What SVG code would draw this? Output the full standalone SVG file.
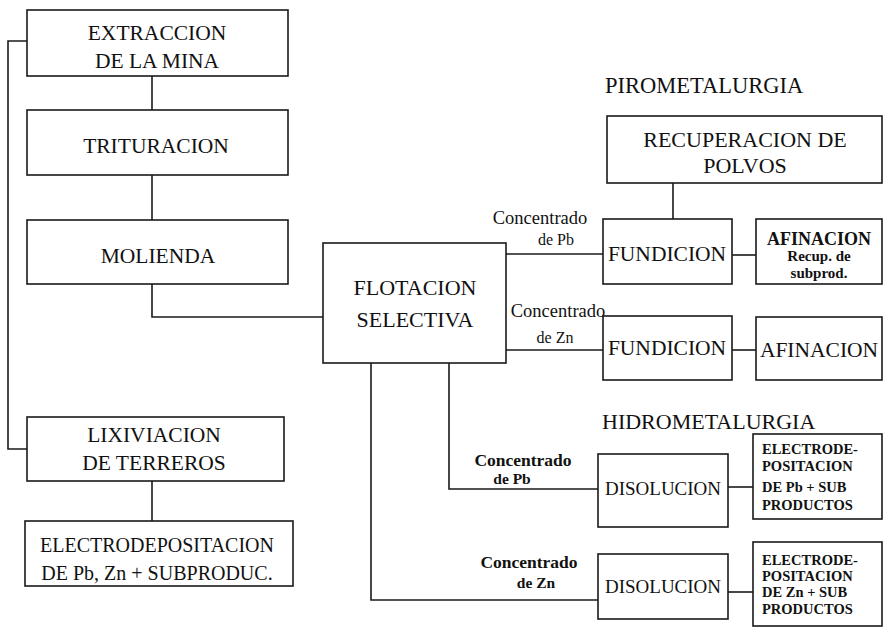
<svg xmlns="http://www.w3.org/2000/svg" width="884" height="628" viewBox="0 0 884 628" font-family="'Liberation Serif', 'DejaVu Serif', serif">
<style>
.box{fill:#fff;stroke:#1a1a1a;stroke-width:1.6}
.ln{fill:none;stroke:#1a1a1a;stroke-width:1.6}
text{font-family:'Liberation Serif','DejaVu Serif',serif;fill:#111;text-anchor:middle}
.t{font-size:21.5px}
.lab{font-size:18.5px}
.labb{font-size:17.5px;font-weight:bold}
.sm{font-size:14.5px;font-weight:bold;text-anchor:start}
</style>
<rect width="884" height="628" fill="#fff"/>
<g id="connectors">
<polyline class="ln" points="27,41 8,41 8,449 27,449"/>
<line class="ln" x1="152" y1="76" x2="152" y2="110"/>
<line class="ln" x1="152" y1="175" x2="152" y2="220"/>
<polyline class="ln" points="152,284 152,317 323,317"/>
<line class="ln" x1="152" y1="481" x2="152" y2="521"/>
<line class="ln" x1="506" y1="254" x2="603" y2="254"/>
<line class="ln" x1="506" y1="350" x2="603" y2="350"/>
<line class="ln" x1="673" y1="183" x2="673" y2="219"/>
<line class="ln" x1="732" y1="255" x2="756" y2="255"/>
<line class="ln" x1="732" y1="350" x2="756" y2="350"/>
<polyline class="ln" points="449,363 449,489 598,489"/>
<polyline class="ln" points="371,363 371,600 598,600"/>
<line class="ln" x1="728" y1="487" x2="753" y2="487"/>
<line class="ln" x1="728" y1="592" x2="753" y2="592"/>
</g>
<g id="extraccion"><rect class="box" x="27" y="10" width="261" height="66"/><text class="t" x="157" y="39.5">EXTRACCION</text><text class="t" x="157" y="68">DE LA MINA</text></g>
<g id="trituracion"><rect class="box" x="27" y="110" width="261" height="65"/><text class="t" x="156" y="153">TRITURACION</text></g>
<g id="molienda"><rect class="box" x="27" y="220" width="261" height="64"/><text class="t" x="158" y="263">MOLIENDA</text></g>
<g id="lixiviacion"><rect class="box" x="27" y="417" width="257" height="64"/><text class="t" x="154" y="442">LIXIVIACION</text><text class="t" x="154" y="470">DE TERREROS</text></g>
<g id="electrodep"><rect class="box" x="25" y="521" width="268" height="65"/><text class="t" x="157" y="552" style="font-size:20px">ELECTRODEPOSITACION</text><text class="t" x="157" y="580" style="font-size:20px">DE Pb, Zn + SUBPRODUC.</text></g>
<g id="flotacion"><rect class="box" x="323" y="243" width="183" height="120"/><text class="t" x="415" y="295" style="font-size:22px">FLOTACION</text><text class="t" x="415" y="327" style="font-size:22px">SELECTIVA</text></g>
<g id="label-pb-piro"><text class="lab" x="540" y="224">Concentrado</text><text class="lab" x="556" y="245" style="font-size:16px">de Pb</text></g>
<g id="label-zn-piro"><text class="lab" x="558" y="317">Concentrado</text><text class="lab" x="555" y="343" style="font-size:16px">de Zn</text></g>
<g id="pirometalurgia"><text class="t" x="605" y="93" style="text-anchor:start;font-size:22.5px">PIROMETALURGIA</text></g>
<g id="recuperacion"><rect class="box" x="607" y="116" width="275" height="67"/><text class="t" x="745" y="147" style="font-size:22px">RECUPERACION DE</text><text class="t" x="745" y="173" style="font-size:22px">POLVOS</text></g>
<g id="fundicion1"><rect class="box" x="603" y="219" width="129" height="65"/><text class="t" x="667" y="261">FUNDICION</text></g>
<g id="fundicion2"><rect class="box" x="603" y="316" width="129" height="64"/><text class="t" x="667" y="355">FUNDICION</text></g>
<g id="afinacion1"><rect class="box" x="756" y="219" width="126" height="65"/><text x="819" y="245" style="font-size:18px;font-weight:bold">AFINACION</text><text x="819" y="261" style="font-size:15px;font-weight:bold">Recup. de</text><text x="819" y="278" style="font-size:15px;font-weight:bold">subprod.</text></g>
<g id="afinacion2"><rect class="box" x="756" y="317" width="126" height="63"/><text class="t" x="819" y="357">AFINACION</text></g>
<g id="hidrometalurgia"><text class="t" x="602" y="429" style="text-anchor:start;font-size:22px">HIDROMETALURGIA</text></g>
<g id="label-pb-hidro"><text class="labb" x="523" y="466">Concentrado</text><text class="labb" x="512" y="484" style="font-size:15.5px">de Pb</text></g>
<g id="label-zn-hidro"><text class="labb" x="529" y="568">Concentrado</text><text class="labb" x="536" y="588" style="font-size:15.5px">de Zn</text></g>
<g id="disolucion1"><rect class="box" x="598" y="454" width="130" height="73"/><text class="t" x="663" y="495" style="font-size:19px">DISOLUCION</text></g>
<g id="disolucion2"><rect class="box" x="598" y="554" width="130" height="65"/><text class="t" x="663" y="593" style="font-size:19px">DISOLUCION</text></g>
<g id="electro-pb"><rect class="box" x="753" y="434" width="129" height="85"/><text class="sm" x="762" y="454">ELECTRODE-</text><text class="sm" x="762" y="471">POSITACION</text><text class="sm" x="762" y="492">DE Pb + SUB</text><text class="sm" x="762" y="510">PRODUCTOS</text></g>
<g id="electro-zn"><rect class="box" x="753" y="542" width="129" height="84"/><text class="sm" x="762" y="565">ELECTRODE-</text><text class="sm" x="762" y="581">POSITACION</text><text class="sm" x="762" y="597">DE Zn + SUB</text><text class="sm" x="762" y="614">PRODUCTOS</text></g>
</svg>
